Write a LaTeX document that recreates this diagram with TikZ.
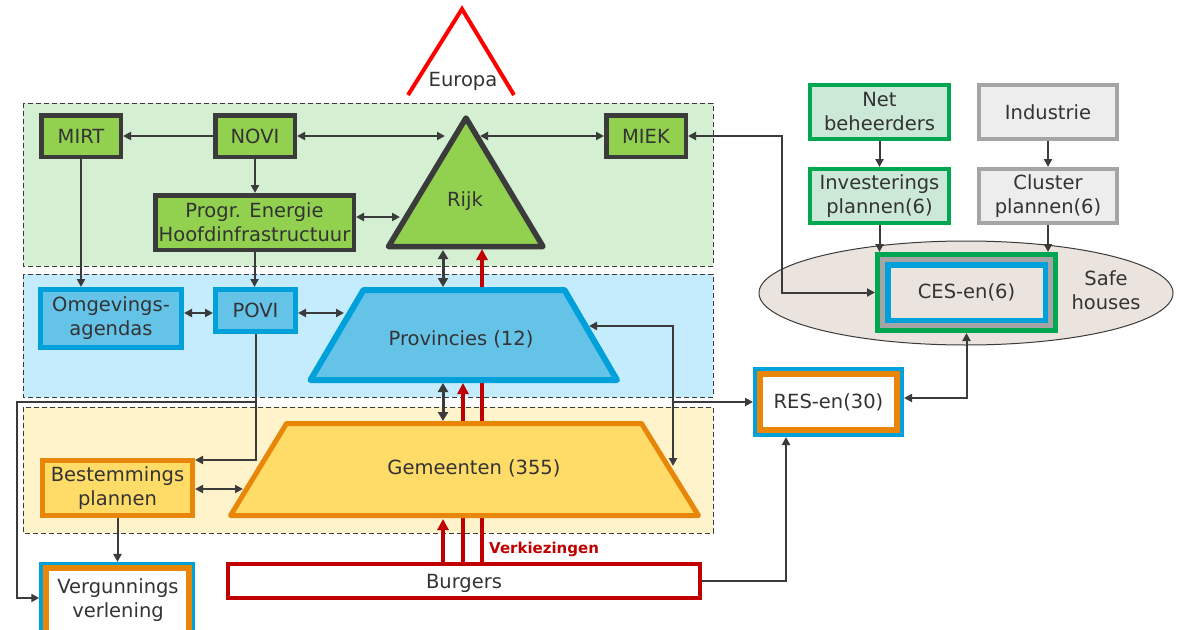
\documentclass[tikz,border=0pt]{standalone}
\usepackage{fontspec}
\setmainfont{DejaVu Sans}
\usetikzlibrary{arrows.meta,shapes.geometric}
\definecolor{dkc}{HTML}{3B3B3B}
\definecolor{txtc}{HTML}{333333}
\definecolor{grnf}{HTML}{92D050}
\definecolor{zoneG}{HTML}{D5EFD3}
\definecolor{zoneB}{HTML}{C4ECFC}
\definecolor{zoneY}{HTML}{FFF3CB}
\definecolor{bluef}{HTML}{66C3E8}
\definecolor{blueb}{HTML}{00A0DB}
\definecolor{yelf}{HTML}{FFDB67}
\definecolor{orab}{HTML}{E8860A}
\definecolor{redc}{HTML}{C00000}
\definecolor{eurred}{HTML}{FF0000}
\definecolor{netf}{HTML}{CCE8D6}
\definecolor{netb}{HTML}{00A650}
\definecolor{indf}{HTML}{EDEDED}
\definecolor{indb}{HTML}{A5A5A5}
\definecolor{ellf}{HTML}{EBE4DE}
\tikzset{
  txt/.style={text=txtc, font=\fontsize{19.5}{24}\selectfont, align=center},
  bx/.style={draw, inner sep=0pt, txt},
  dkbox/.style={bx, draw=dkc, fill=grnf, line width=4.5pt},
  blbox/.style={bx, draw=blueb, fill=bluef, line width=5pt},
  orbox/.style={bx, draw=orab, fill=yelf, line width=5pt},
  netbox/.style={bx, draw=netb, fill=netf, line width=4pt},
  indbox/.style={bx, draw=indb, fill=indf, line width=4pt},
  zone/.style={draw=dkc, line width=1pt, dash pattern=on 5pt off 3pt},
  arr/.style={draw=dkc, line width=2pt, -{Triangle[length=8pt,width=8pt]}},
  arrtwo/.style={draw=dkc, line width=2pt, {Triangle[length=8pt,width=8pt]}-{Triangle[length=8pt,width=8pt]}},
  thickarr/.style={draw=dkc, line width=3pt, {Triangle[length=9pt,width=10pt]}-{Triangle[length=9pt,width=10pt]}},
  redarr/.style={draw=redc, line width=3.5pt, -{Triangle[length=11pt,width=11pt]}},
}
\begin{document}
\begin{tikzpicture}[x=1pt,y=-1pt]
\clip (0,0) rectangle (1183,629);
\fill[white] (0,0) rectangle (1183,629);
% zones
\path[zone, fill=zoneG] (23,103) rectangle (713,266);
\path[zone, fill=zoneB] (23,274) rectangle (713,397);
\path[zone, fill=zoneY] (23,407) rectangle (713,533);
% Europa
\draw[eurred, line width=4pt] (408,95) -- (462,9) -- (514,95);
\node[txt] (eur) at (463,81) {Europa};
% safe houses ellipse
\node[ellipse, draw=dkc, fill=ellf, line width=1pt, minimum width=414, minimum height=104, inner sep=0pt] (safe) at (966,293) {};
\node[txt] (safet) at (1106,290) {Safe\\houses};
% named points
\coordinate (rijkNL) at (445,136);
\coordinate (rijkNR) at (480,136);
\coordinate (rijkPL) at (400,217);
\coordinate (rijkB) at (482,249);
\coordinate (rijkBB) at (443,250);
\coordinate (provT) at (443,287);
\coordinate (provL) at (344,313);
\coordinate (provB) at (463,383);
\coordinate (provBB) at (443,383);
\coordinate (provR) at (589,326);
\coordinate (gemT) at (443,421);
\coordinate (gemB) at (443,519);
\coordinate (gemL) at (243,489);
\coordinate (gemR) at (673,466);
\coordinate (kR1) at (673,326);
\coordinate (kR2) at (673,402);
\coordinate (yOP) at (0,313);
\coordinate (yPB) at (0,460);
\coordinate (lTop) at (17,402);
\coordinate (lBot) at (17,598);
\coordinate (brx) at (786,0);
\coordinate (yRC) at (0,398);
\coordinate (mx) at (782,0);
\coordinate (rx) at (463,0);
\coordinate (ry) at (482,0);
% Burgers (for red lines)
\node[bx, draw=redc, fill=white, line width=4pt, minimum width=472, minimum height=34, text depth=0pt] (burgers) at (464,581) {Burgers};
% red lines (behind shapes)
\draw[redarr] (burgers.north -| gemB) -- (gemB);
\draw[redarr] (burgers.north -| rx) -- (provB);
\draw[redarr] (burgers.north -| ry) -- (rijkB);
\node[font=\bfseries\fontsize{15}{18}\selectfont, text=redc, anchor=west, inner sep=0pt] (verk) at (489,549) {Verkiezingen};
% Rijk
\draw[line width=5.5pt, draw=dkc, fill=grnf, line join=round] (466,118) -- (543,246.5) -- (388.5,246.5) -- cycle;
\node[txt] (rijk) at (465,201) {Rijk};
% Provincies
\draw[line width=6pt, draw=blueb, fill=bluef, line join=round] (310.5,380) -- (363.5,290) -- (564.5,290) -- (617,380) -- cycle;
\node[txt] (prov) at (461,339) {Provincies (12)};
% Gemeenten
\draw[line width=5pt, draw=orab, fill=yelf, line join=round] (230.5,515.5) -- (286.5,423.5) -- (641.5,423.5) -- (698.5,515.5) -- cycle;
\node[txt] (gem) at (474,468) {Gemeenten (355)};
% green boxes
\node[dkbox, minimum width=79.5, minimum height=41.5] (mirt) at (81,136) {MIRT};
\node[dkbox, minimum width=79.5, minimum height=41.5] (novi) at (255,136) {NOVI};
\node[dkbox, minimum width=79.5, minimum height=41.5] (miek) at (646,136) {MIEK};
\node[dkbox, minimum width=198.5, minimum height=54.5] (progr) at (254.5,222.5) {Progr. Energie\\Hoofdinfrastructuur};
% blue boxes
\node[blbox, minimum width=141, minimum height=58] (omg) at (111,318.5) {Omgevings-\\agendas};
\node[blbox, minimum width=80, minimum height=42] (povi) at (255.5,310.5) {POVI};
% orange
\node[orbox, minimum width=150, minimum height=55] (best) at (117.5,488) {Bestemmings\\plannen};
\node[bx, draw=blueb, fill=white, line width=3.5pt, minimum width=152.5, minimum height=96] (vergb) at (117.25,611.7) {};
\node[bx, draw=orab, fill=white, line width=6pt, minimum width=143, minimum height=87] (vergo) at (117.5,611.5) {};
\node[txt] (verg) at (118,600) {Vergunnings\\verlening};
% RES
\node[bx, draw=blueb, fill=white, line width=4pt, minimum width=147, minimum height=66] (resb) at (828.5,402) {};
\node[bx, draw=orab, fill=white, line width=6pt, minimum width=137, minimum height=56] (reso) at (828.5,402) {RES-en(30)};
% right boxes
\node[netbox, minimum width=139, minimum height=54] (net) at (879.5,112) {Net\\beheerders};
\node[netbox, minimum width=139, minimum height=54] (inv) at (879.5,196) {Investerings\\plannen(6)};
\node[indbox, minimum width=138, minimum height=54] (ind) at (1048,112) {Industrie};
\node[indbox, minimum width=138, minimum height=54] (clu) at (1048,196) {Cluster\\plannen(6)};
% CES
\node[bx, draw=netb, fill=ellf, line width=5pt, minimum width=178, minimum height=76] (cesg) at (966.5,292.5) {};
\node[bx, draw=indb, line width=5pt, minimum width=168, minimum height=66] (cesgr) at (966.5,292.5) {};
\node[bx, draw=blueb, line width=5.5pt, minimum width=157.5, minimum height=55.5] (ces) at (966.5,292.5) {CES-en(6)};
% connectors
\draw[arr] (novi.west) -- (mirt.east);
\draw[arrtwo] (novi.east) -- (rijkNL);
\draw[arrtwo] (rijkNR) -- (miek.west);
\draw[arr] (novi.south) -- (novi.south |- progr.north);
\draw[arrtwo] (progr.east |- rijkPL) -- (rijkPL);
\draw[arr] (mirt.south) -- (mirt.south |- omg.north);
\draw[arr] (progr.south) -- (progr.south |- povi.north);
\draw[arrtwo] (omg.east |- yOP) -- (povi.west |- yOP);
\draw[arrtwo] (povi.east |- yOP) -- (provL);
\draw[thickarr] (rijkBB) -- (provT);
\draw[thickarr] (provBB) -- (gemT);
\draw[arrtwo] (provR) -- (kR1) -- (gemR);
\draw[arr] (kR2) -- (resb.west |- kR2);
\draw[arr] (povi.south) |- (best.east |- yPB);
\draw[arr] (povi.south |- lTop) -- (lTop) -- (lBot) -- (vergb.west |- lBot);
\draw[arrtwo] (best.east |- gemL) -- (gemL);
\draw[arr] (best.south) -- (best.south |- vergb.north);
\draw[arr] (burgers.east) -| (resb.south -| brx);
\draw[arrtwo] (resb.east |- yRC) -| (cesg.south);
\draw[arrtwo] (miek.east) -| (mx |- cesg.west) -- (cesg.west);
\draw[arr] (net.south) -- (inv.north);
\draw[arr] (inv.south) -- (inv.south |- cesg.north);
\draw[arr] (ind.south) -- (clu.north);
\draw[arr] (clu.south) -- (clu.south |- cesg.north);
\end{tikzpicture}
\end{document}
